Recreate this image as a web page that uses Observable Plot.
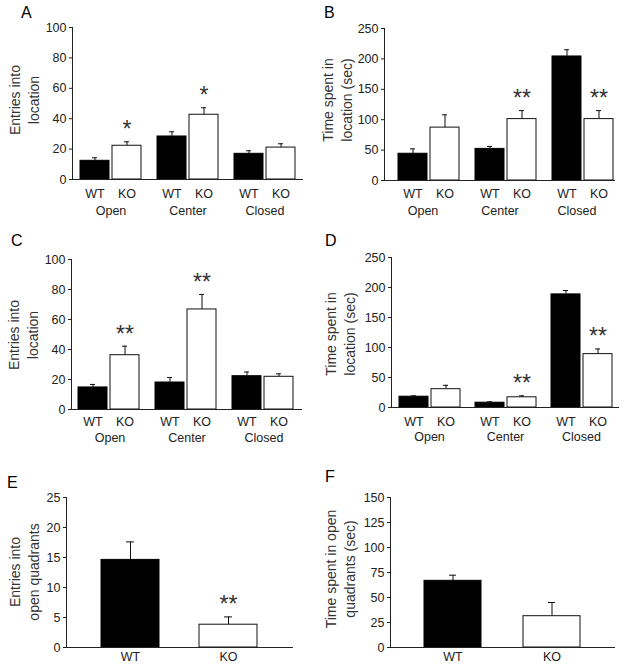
<!DOCTYPE html>
<html>
<head>
<meta charset="utf-8">
<script src="https://cdn.jsdelivr.net/npm/d3@7"></script>
<script src="https://cdn.jsdelivr.net/npm/@observablehq/plot@0.6"></script>
<style>
  html, body { margin: 0; padding: 0; background: #fff; }
  #wrap { position: relative; width: 626px; height: 671px; overflow: hidden;
          font-family: "Liberation Sans", Arial, sans-serif; }
  .panel { position: absolute; }
  .letter { position: absolute; font-size: 16px; line-height: 16px; color: #000; }
  .ylab { position: absolute; width: 220px; height: 38px; line-height: 19px; font-size: 14px;
          text-align: center; color: #333; transform: rotate(-90deg); white-space: pre; }
</style>
</head>
<body>
<div id="wrap"></div>
<script>
// ---------------- data ----------------
const locations = ["Open", "Center", "Closed"];
const genotypes = ["WT", "KO"];

// order of values: Open WT, Open KO, Center WT, Center KO, Closed WT, Closed KO
const aMean  = [12.3, 22.2, 28.3, 42.6, 16.9, 21.0];
const aUpper = [14.3, 24.8, 31.4, 47.2, 18.9, 23.5];
const aSig   = ["", "*", "", "*", "", ""];
const aTicks = [0, 20, 40, 60, 80, 100];

const bMean  = [44, 87, 52, 101, 204, 101];
const bUpper = [52, 108, 56, 115, 215, 115];
const bSig   = ["", "", "", "**", "", "**"];
const bTicks = [0, 50, 100, 150, 200, 250];

const cMean  = [14.7, 36.2, 18.0, 66.7, 22.2, 21.8];
const cUpper = [16.7, 42.2, 21.3, 76.7, 25.0, 23.8];
const cSig   = ["", "**", "", "**", "", ""];
const cTicks = [0, 20, 40, 60, 80, 100];

const dMean  = [18, 30.5, 8, 17, 188.5, 89];
const dUpper = [19.5, 37, 9.5, 19.5, 195, 97.5];
const dSig   = ["", "", "", "**", "", "**"];
const dTicks = [0, 50, 100, 150, 200, 250];

const eMean  = [14.6, 3.8];
const eUpper = [17.6, 5.1];
const eSig   = ["", "**"];
const eTicks = [0, 5, 10, 15, 20, 25];

const fMean  = [66.7, 31.3];
const fUpper = [72.3, 45.0];
const fSig   = ["", ""];
const fTicks = [0, 25, 50, 75, 100, 125, 150];

const panelLetters = ["A", "B", "C", "D", "E", "F"];
const yLabels = [
  "Entries into\nlocation",
  "Time spent in\nlocation (sec)",
  "Entries into\nlocation",
  "Time spent in\nlocation (sec)",
  "Entries into\nopen quadrants",
  "Time spent in open\nquadrants (sec)"
];

// ---------------- drawing ----------------
const FONT = '"Liberation Sans", Arial, sans-serif';
const INK = "#222";
const wrap = document.getElementById("wrap");

function commonMarks(rows, capInset) {
  return [
    Plot.barY(rows, {filter: d => d.g === "WT", x: "g", y: "mean", fill: "#000", stroke: "#000", strokeWidth: 1}),
    Plot.barY(rows, {filter: d => d.g === "KO", x: "g", y: "mean", fill: "#fff", stroke: "#111", strokeWidth: 1}),
    Plot.ruleX(rows, {x: "g", y1: "mean", y2: "upper", stroke: "#111", strokeWidth: 1}),
    Plot.tickY(rows, {x: "g", y: "upper", stroke: "#111", strokeWidth: 1, insetLeft: capInset, insetRight: capInset}),
    Plot.text(rows, {x: "g", y: "upper", text: "sig", dy: -12, fontSize: 23, fill: "#333"}),
    Plot.ruleY([0], {stroke: "#222", strokeWidth: 1})
  ];
}

function grouped(o) {
  const rows = [];
  locations.forEach((loc, i) => genotypes.forEach((g, j) => {
    const k = i * genotypes.length + j;
    rows.push({loc, g, mean: o.mean[k], upper: o.upper[k], sig: o.sig[k]});
  }));
  const facetW = (313 - o.ml - o.mr) / locations.length;
  const pIn = 3 / 33;
  const pOut = Math.max(0, (facetW / 33 - (2 - pIn)) / 2);
  return Plot.plot({
    width: 313, height: 225,
    marginLeft: o.ml, marginRight: o.mr, marginTop: o.mt, marginBottom: o.mb,
    style: {fontFamily: FONT, fontSize: "12.5px", color: INK, background: "transparent"},
    facet: {data: rows, x: "loc"},
    fx: {domain: locations, padding: 0, axis: "bottom", label: null, tickSize: 0, tickPadding: o.fxPad},
    x: {domain: genotypes, paddingInner: pIn, paddingOuter: pOut, align: o.align, axis: "bottom",
        label: null, tickSize: 0, tickPadding: o.xPad},
    y: {domain: [0, o.ticks[o.ticks.length - 1]], ticks: o.ticks, tickSize: 3, tickPadding: 3,
        label: null, line: true},
    marks: commonMarks(rows, 12)
  });
}

function simple(o) {
  const rows = genotypes.map((g, j) => ({g, mean: o.mean[j], upper: o.upper[j], sig: o.sig[j]}));
  return Plot.plot({
    width: 313, height: 221,
    marginLeft: o.ml, marginRight: o.mr, marginTop: o.mt, marginBottom: o.mb,
    style: {fontFamily: FONT, fontSize: "12.5px", color: INK, background: "transparent"},
    x: {domain: genotypes, paddingInner: o.pIn, paddingOuter: o.pOut, label: null, tickSize: 0, tickPadding: o.xPad},
    y: {domain: [0, o.ticks[o.ticks.length - 1]], ticks: o.ticks, tickSize: 3, tickPadding: 3,
        label: null, line: true},
    marks: commonMarks(rows, 25)
  });
}

const panels = [
  {left: 0,   top: 0,   el: grouped({mean: aMean, upper: aUpper, sig: aSig, ticks: aTicks, ml: 71, mr: 10, mt: 27, mb: 46, align: 0.5,  xPad: 10, fxPad: 27})},
  {left: 313, top: 0,   el: grouped({mean: bMean, upper: bUpper, sig: bSig, ticks: bTicks, ml: 70, mr: 11, mt: 28, mb: 45, align: 0.86, xPad: 9,  fxPad: 26})},
  {left: 0,   top: 225, el: grouped({mean: cMean, upper: cUpper, sig: cSig, ticks: cTicks, ml: 70, mr: 11, mt: 34, mb: 41, align: 0.47, xPad: 8,  fxPad: 24})},
  {left: 313, top: 225, el: grouped({mean: dMean, upper: dUpper, sig: dSig, ticks: dTicks, ml: 77, mr: 6,  mt: 32, mb: 43, align: 0.54, xPad: 10, fxPad: 25})},
  {left: 0,   top: 450, el: simple({mean: eMean, upper: eUpper, sig: eSig, ticks: eTicks, ml: 66, mr: 20, mt: 47, mb: 24, pIn: 0.408, pOut: 0.362, xPad: 5})},
  {left: 313, top: 450, el: simple({mean: fMean, upper: fUpper, sig: fSig, ticks: fTicks, ml: 77, mr: 11, mt: 47, mb: 24, pIn: 0.424, pOut: 0.348, xPad: 5})}
];
panels.forEach(p => {
  p.el.classList.add("panel");
  p.el.style.left = p.left + "px";
  p.el.style.top = p.top + "px";
  wrap.appendChild(p.el);
});

// panel letters (left, top)
const letterPos = [[21, 5], [324, 5], [11, 233], [325, 233], [7, 475], [325, 469]];
panelLetters.forEach((t, i) => {
  const d = document.createElement("div");
  d.className = "letter";
  d.textContent = t;
  d.style.left = letterPos[i][0] + "px";
  d.style.top = letterPos[i][1] + "px";
  wrap.appendChild(d);
});

// rotated y-axis titles (center x, center y)
const yLabPos = [[25, 100], [338, 100], [24, 335], [340.5, 334], [25, 572], [341, 569]];
yLabels.forEach((t, i) => {
  const d = document.createElement("div");
  d.className = "ylab";
  d.textContent = t;
  d.style.left = (yLabPos[i][0] - 110) + "px";
  d.style.top = (yLabPos[i][1] - 19) + "px";
  wrap.appendChild(d);
});
</script>
</body>
</html>
